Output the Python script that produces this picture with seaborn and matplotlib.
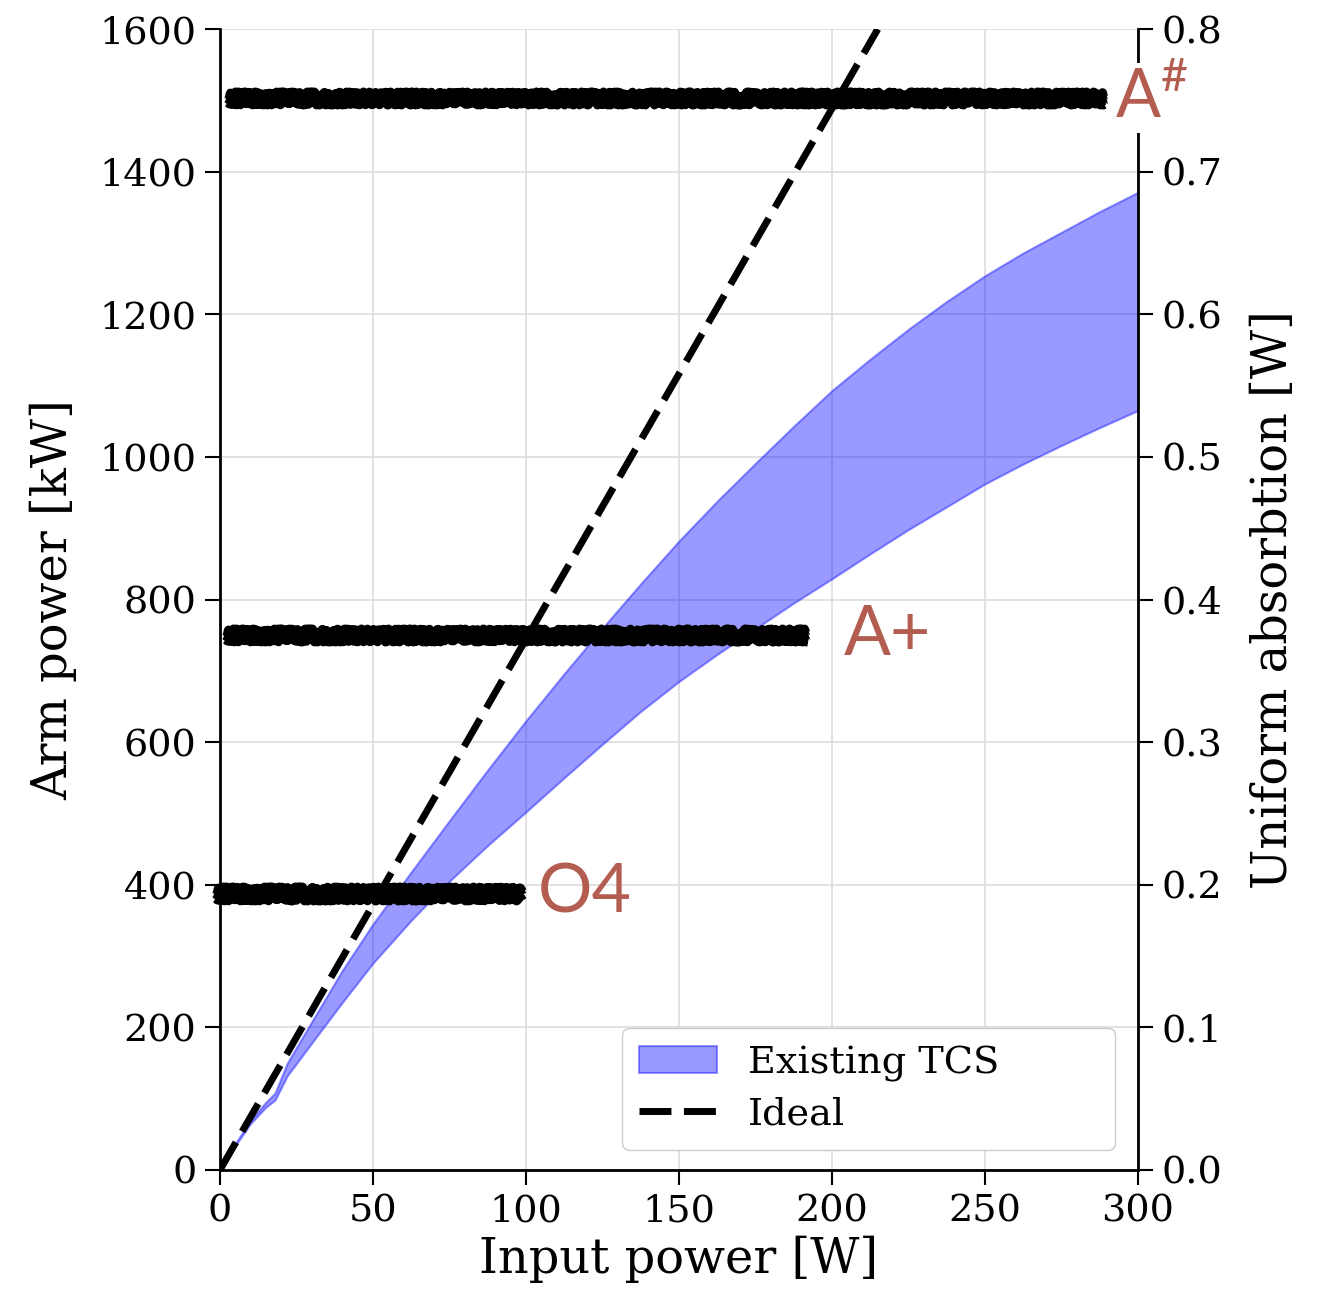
import matplotlib
matplotlib.use("Agg")
import matplotlib.pyplot as plt
import numpy as np
import pandas as pd
import seaborn as sns

# Data
input_power = [0, 5, 10, 15, 18, 22, 30, 40, 50, 62.5, 75, 87.5, 100, 112.5, 125, 137.5,
               150, 162.5, 175, 187.5, 200, 212.5, 225, 237.5, 250, 262.5, 275, 287.5, 300]
tcs_upper = [0, 37, 70, 95, 108, 150, 208, 280, 345, 418, 490, 561, 630, 696, 760, 822,
             882, 938, 991, 1043, 1093, 1137, 1179, 1218, 1254, 1286, 1315, 1344, 1371]
tcs_lower = [0, 34, 65, 88, 98, 132, 178, 235, 290, 350, 405, 455, 502, 550, 597, 643,
             685, 723, 759, 795, 829, 864, 898, 930, 962, 990, 1016, 1041, 1065]

ideal_x = [0, 215]
ideal_y = [0, 1600]

# Detector targets: label, arm power, x-extent of the scribble
target_names = ["A$^{\\mathrm{\\#}}$", "A+", "O4"]
target_power = [1503, 750, 388]
target_x_start = [2.3, 1.6, -1.6]
target_x_end = [289, 192, 98.7]
label_x = [292.5, 204, 104]

sns.set_theme(style="whitegrid")
plt.rcParams["font.family"] = ["DejaVu Serif"]
plt.rcParams["text.color"] = "black"
plt.rcParams["axes.labelcolor"] = "black"
plt.rcParams["xtick.color"] = "black"
plt.rcParams["ytick.color"] = "black"
plt.rcParams["mathtext.fontset"] = "custom"
plt.rcParams["mathtext.rm"] = "Lato"

fig = plt.figure(figsize=(13.17, 13.02), dpi=100)
ax = fig.add_axes([0.167, 0.1014, 0.697, 0.8763])
ax.set_facecolor("white")

ax.fill_between(input_power, tcs_lower, tcs_upper, color="blue", alpha=0.4,
                lw=1.5, label="Existing TCS", zorder=2)

ideal_df = pd.DataFrame({"x": ideal_x, "y": ideal_y})
sns.lineplot(data=ideal_df, x="x", y="y", ax=ax, color="black", lw=5,
             label="Ideal", zorder=3)
ax.lines[-1].set_dashes((4.6, 1.8))

# thick hand-drawn marker scribbles
for y, x0, x1 in zip(target_power, target_x_start, target_x_end):
    for off, lw in [(-6, 6.5), (0, 7), (6, 6.5)]:
        ln, = ax.plot([x0, x1], [y + off, y + off], color="black", lw=lw,
                      solid_capstyle="butt", clip_on=False, zorder=4)
        ln.set_sketch_params(scale=2.5, length=4, randomness=6)

text_color = "#b35c50"
ax.text(label_x[0], target_power[0], target_names[0], color=text_color, fontsize=48,
        family="Lato", va="center", ha="left", zorder=6, clip_on=False,
        bbox=dict(facecolor="white", edgecolor="none", pad=2))
ax.text(label_x[1], target_power[1], target_names[1], color=text_color, fontsize=50,
        family="Lato", va="center", ha="left", zorder=6)
ax.text(label_x[2], target_power[2], target_names[2], color=text_color, fontsize=49,
        family="Lato", va="center", ha="left", zorder=6)

ax.set_xlim(0, 300)
ax.set_ylim(0, 1600)
ax.set_xticks(range(0, 301, 50))
ax.set_yticks(range(0, 1601, 200))
ax.set_xlabel("Input power [W]", fontsize=34.5, labelpad=4)
ax.set_ylabel("Arm power [kW]", fontsize=34.5, labelpad=16)
ax.grid(True, color="#dddddd", lw=1.2)
ax.set_axisbelow(True)

for side in ["left", "bottom", "right"]:
    ax.spines[side].set_visible(True)
    ax.spines[side].set_color("black")
    ax.spines[side].set_linewidth(2)
ax.spines["top"].set_visible(False)
ax.tick_params(axis="both", direction="out", length=11, width=1.5, color="black",
               labelsize=27.5, pad=6, left=True, bottom=True)

ax.legend(loc="lower left", bbox_to_anchor=(0.438, 0.0175, 0.537, 0.11), mode="expand",
          fontsize=27.5, handlelength=2.05, handletextpad=0.8, borderpad=0.45,
          labelspacing=0.4, frameon=True, edgecolor="#cccccc", framealpha=1,
          fancybox=True, borderaxespad=0)

ax2 = ax.twinx()
ax2.set_ylim(0, 0.8)
ax2.set_yticks(np.arange(0, 0.81, 0.1))
ax2.set_yticklabels([f"{v:.1f}" for v in np.arange(0, 0.81, 0.1)])
ax2.grid(False)
ax2.set_ylabel("Uniform absorbtion [W]", fontsize=34.5, labelpad=20)
for side in ["left", "bottom", "top", "right"]:
    ax2.spines[side].set_visible(False)
ax2.tick_params(axis="y", direction="out", length=11, width=1.5, color="black",
                labelsize=27.5, pad=6, right=True)
ax.set_zorder(ax2.get_zorder() + 1)
ax.patch.set_visible(True)

fig.savefig("out.png", dpi=100)
